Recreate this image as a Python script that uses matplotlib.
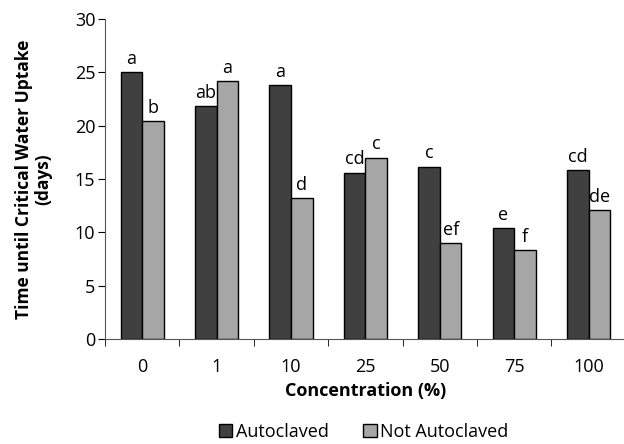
import matplotlib.pyplot as plt
import numpy as np

plt.rcParams['font.family'] = ['Open Sans', 'DejaVu Sans']

# data
concentrations = ['0', '1', '10', '25', '50', '75', '100']
autoclaved = [25.0, 21.8, 23.8, 15.6, 16.15, 10.4, 15.85]
not_autoclaved = [20.4, 24.2, 13.2, 17.0, 9.0, 8.3, 12.1]
letters_auto = ['a', 'ab', 'a', 'cd', 'c', 'e', 'cd']
letters_not = ['b', 'a', 'd', 'c', 'ef', 'f', 'de']

fig = plt.figure(figsize=(6.24, 4.44), dpi=100)
ax = fig.add_axes([105 / 624, 105 / 444, 1 - 105 / 624 + 0.003, 320 / 444])

x = np.arange(len(concentrations))
w = 0.29
b1 = ax.bar(x - w / 2, autoclaved, w, color='#404040', edgecolor='black',
            linewidth=1, label='Autoclaved')
b2 = ax.bar(x + w / 2, not_autoclaved, w, color='#a6a6a6', edgecolor='black',
            linewidth=1, label='Not Autoclaved')

for xi, v, t in zip(x - w / 2, autoclaved, letters_auto):
    ax.text(xi, v + 0.4, t, ha='center', va='bottom', fontsize=13)
for xi, v, t in zip(x + w / 2, not_autoclaved, letters_not):
    ax.text(xi, v + 0.4, t, ha='center', va='bottom', fontsize=13)

ax.set_xlim(-0.5, len(concentrations) - 0.5)
ax.set_ylim(0, 30)
ax.set_yticks(range(0, 31, 5))
ax.set_xticks(x)
ax.set_xticklabels(concentrations)
ax.set_xticks(np.arange(-0.5, len(concentrations), 1), minor=True)
ax.tick_params(axis='x', which='major', length=0, labelsize=13, pad=14)
ax.tick_params(axis='x', which='minor', length=5, direction='out')
ax.tick_params(axis='y', length=5, direction='out', labelsize=13, pad=2)

for s in ['top', 'right']:
    ax.spines[s].set_visible(False)
for s in ['left', 'bottom']:
    ax.spines[s].set_color('#555555')

ax.set_xlabel('Concentration (%)', fontweight='bold', fontsize=13, labelpad=4)
ax.set_ylabel('Time until Critical Water Uptake\n(days)', fontweight='bold',
              fontsize=12.5, labelpad=16, linespacing=1.1)

fig.legend(handles=[b1, b2], loc='center', bbox_to_anchor=(0.583, 12 / 444),
           ncol=2, frameon=False, fontsize=13, handlelength=0.75,
           handleheight=0.75, columnspacing=1.9, handletextpad=0.2)

fig.savefig('out.png', dpi=100)
